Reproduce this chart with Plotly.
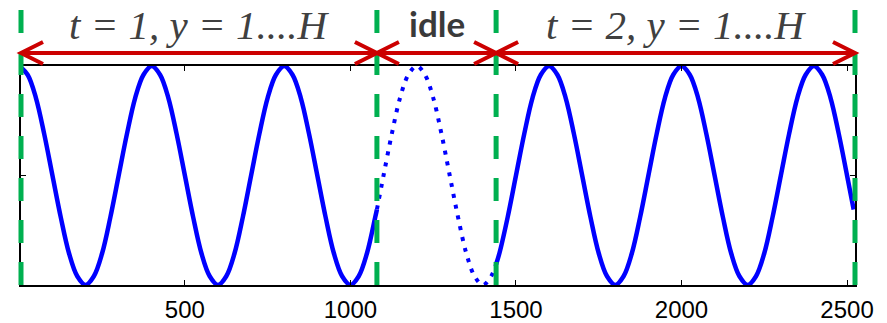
import plotly.graph_objects as go

# ---- data ----
x_solid1 = [0, 25, 50, 75, 100, 125, 150, 175, 200, 225, 250, 275, 300, 325, 350, 375,
            400, 425, 450, 475, 500, 525, 550, 575, 600, 625, 650, 675, 700, 725, 750, 775,
            800, 825, 850, 875, 900, 925, 950, 975, 1000, 1025, 1050, 1075, 1080]
y_solid1 = [1, .92, .71, .38, 0, -.38, -.71, -.92, -1, -.92, -.71, -.38, 0, .38, .71, .92,
            1, .92, .71, .38, 0, -.38, -.71, -.92, -1, -.92, -.71, -.38, 0, .38, .71, .92,
            1, .92, .71, .38, 0, -.38, -.71, -.92, -1, -.92, -.71, -.38, -.31]

x_idle = [1080, 1100, 1125, 1150, 1175, 1200, 1225, 1250, 1275, 1300, 1325, 1350,
          1375, 1400, 1425, 1440]
y_idle = [-.31, 0, .38, .71, .92, 1, .92, .71, .38, 0, -.38, -.71,
          -.92, -1, -.92, -.81]

x_solid2 = [1440, 1450, 1475, 1500, 1525, 1550, 1575,
            1600, 1625, 1650, 1675, 1700, 1725, 1750, 1775, 1800, 1825, 1850, 1875, 1900, 1925, 1950, 1975,
            2000, 2025, 2050, 2075, 2100, 2125, 2150, 2175, 2200, 2225, 2250, 2275, 2300, 2325, 2350, 2375,
            2400, 2425, 2450, 2475, 2500, 2520]
y_solid2 = [-.81, -.71, -.38, 0, .38, .71, .92,
            1, .92, .71, .38, 0, -.38, -.71, -.92, -1, -.92, -.71, -.38, 0, .38, .71, .92,
            1, .92, .71, .38, 0, -.38, -.71, -.92, -1, -.92, -.71, -.38, 0, .38, .71, .92,
            1, .92, .71, .38, 0, -.31]

x_range = [5, 2524]
x_ticks = [500, 1000, 1500, 2000, 2500]
y_ticks = [-1, 0, 1]
boundaries = [x_range[0], 1080, 1440, x_range[1]]
segment_labels = ["<i>t = 1, y = 1....H</i>",
                  "<b>idle</b>",
                  "<i>t = 2, y = 1....H</i>"]

# ---- layout geometry ----
W, H = 887, 323
ML, MR, MT, MB = 21, 32, 66, 38
PW, PH = W - ML - MR, H - MT - MB

BLUE = "#0000FF"
GREEN = "#00B050"
RED = "#CC0000"

fig = go.Figure()
fig.add_trace(go.Scatter(x=x_solid1, y=y_solid1, mode="lines",
                         line=dict(color=BLUE, width=4.5, shape="spline")))
fig.add_trace(go.Scatter(x=x_idle, y=y_idle, mode="lines",
                         line=dict(color=BLUE, width=4, shape="spline", dash="4px,7px")))
fig.add_trace(go.Scatter(x=x_solid2, y=y_solid2, mode="lines",
                         line=dict(color=BLUE, width=4.5, shape="spline")))


def to_paper_x(v):
    return (v - x_range[0]) / (x_range[1] - x_range[0])


shapes = []
# green dashed boundaries
for b in boundaries:
    px = to_paper_x(b)
    shapes.append(dict(type="line", xref="paper", yref="paper",
                       x0=px, x1=px, y0=(MT + PH - 10) / PH, y1=-2 / PH,
                       line=dict(color=GREEN, width=5, dash="23px,19px")))

# red double-headed arrows
ay = (PH + MT - 53) / PH
lx = 22 / PW
ly = 11 / PH
for a, b in zip(boundaries[:-1], boundaries[1:]):
    pa, pb = to_paper_x(a), to_paper_x(b)
    shapes.append(dict(type="line", xref="paper", yref="paper",
                       x0=pa, x1=pb, y0=ay, y1=ay,
                       line=dict(color=RED, width=4)))
    shapes.append(dict(type="path", xref="paper", yref="paper",
                       path=f"M {pa + lx},{ay + ly} L {pa},{ay} L {pa + lx},{ay - ly}",
                       line=dict(color=RED, width=4)))
    shapes.append(dict(type="path", xref="paper", yref="paper",
                       path=f"M {pb - lx},{ay + ly} L {pb},{ay} L {pb - lx},{ay - ly}",
                       line=dict(color=RED, width=4)))

annotations = []
for i, (a, b) in enumerate(zip(boundaries[:-1], boundaries[1:])):
    label = segment_labels[i]
    if i == 1:
        font = dict(family="Lato", size=35, color="#3a3a3a")
        yy = (PH + MT - 23) / PH
    else:
        font = dict(family="Liberation Serif", size=41, color="#404040")
        yy = (PH + MT - 25) / PH
    annotations.append(dict(x=to_paper_x((a + b) / 2), y=yy, xref="paper", yref="paper",
                            text=label, showarrow=False, font=font,
                            xanchor="center", yanchor="middle"))

fig.update_layout(
    width=W, height=H,
    margin=dict(l=ML, r=MR, t=MT, b=MB, pad=0, autoexpand=False),
    paper_bgcolor="white", plot_bgcolor="white",
    showlegend=False,
    shapes=shapes, annotations=annotations,
    xaxis=dict(range=x_range, tickvals=x_ticks, ticks="inside", ticklen=5,
               tickcolor="black", tickwidth=1.2, showgrid=False, zeroline=False,
               showline=True, linecolor="black", linewidth=1.5, mirror="ticks",
               tickfont=dict(family="Liberation Sans", size=24, color="black"),
               ticklabelstandoff=2, automargin=False),
    yaxis=dict(range=[-1, 1], tickvals=y_ticks, ticks="inside", ticklen=5,
               tickcolor="black", tickwidth=1.2, showgrid=False, zeroline=False,
               showline=True, linecolor="black", linewidth=1.5, mirror="ticks",
               showticklabels=False, automargin=False),
)

fig.write_html("out.html")
